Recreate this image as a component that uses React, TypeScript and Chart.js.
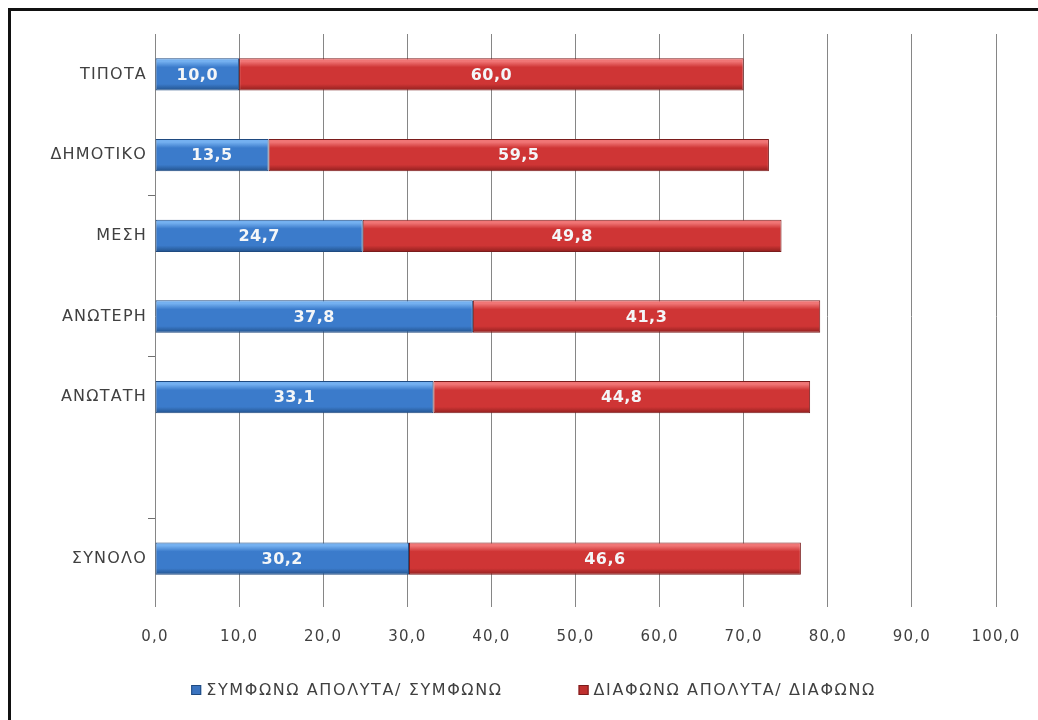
import React, { useEffect, useRef } from "react";
import { Chart, registerables } from "chart.js";

Chart.register(...registerables);

const categories = ["ΤΙΠΟΤΑ", "ΔΗΜΟΤΙΚΟ", "ΜΕΣΗ", "ΑΝΩΤΕΡΗ", "ΑΝΩΤΑΤΗ", "", "ΣΥΝΟΛΟ"];
const agreeValues: (number | null)[] = [10.0, 13.5, 24.7, 37.8, 33.1, null, 30.2];
const disagreeValues: (number | null)[] = [60.0, 59.5, 49.8, 41.3, 44.8, null, 46.6];
const seriesNames = ["ΣΥΜΦΩΝΩ ΑΠΟΛΥΤΑ/ ΣΥΜΦΩΝΩ", "ΔΙΑΦΩΝΩ ΑΠΟΛΥΤΑ/ ΔΙΑΦΩΝΩ"];
const xMin = 0;
const xMax = 100;
const xStep = 10;

const FONT = "'DejaVu Sans', 'Liberation Sans', sans-serif";
const BAR_FRACTION = 0.4;
const AXIS_SPACING = "1.2px";

const fmt = (v: number) => v.toFixed(1).replace(".", ",");

const palettes = [
  { top: "#74b0f0", mid: "#3b7bcb", bottom: "#22528c", border: "#1f4a80", solid: "#3a74c0" },
  { top: "#f07575", mid: "#cf3535", bottom: "#8f1f1e", border: "#7a1c1c", solid: "#c0302f" },
];

function gradientFor(p: typeof palettes[number]) {
  return (c: any) => {
    const chart = c.chart;
    if (!chart.chartArea || c.dataIndex === undefined) return p.mid;
    const y = chart.scales.y;
    const center = y.getPixelForValue(c.dataIndex);
    const half = (y.height / categories.length) * BAR_FRACTION / 2;
    const g = chart.ctx.createLinearGradient(0, center - half, 0, center + half);
    g.addColorStop(0, p.top);
    g.addColorStop(0.1, p.top);
    g.addColorStop(0.28, p.mid);
    g.addColorStop(0.8, p.mid);
    g.addColorStop(1, p.bottom);
    return g;
  };
}

const spacing = {
  id: "spacing",
  beforeUpdate(chart: any) {
    chart.ctx.letterSpacing = AXIS_SPACING;
  },
  beforeDraw(chart: any) {
    chart.ctx.letterSpacing = AXIS_SPACING;
  },
};

const valueLabels = {
  id: "valueLabels",
  afterDatasetsDraw(chart: any) {
    const ctx = chart.ctx;
    ctx.save();
    ctx.letterSpacing = "0.5px";
    ctx.font = `bold 16px ${FONT}`;
    ctx.fillStyle = "#f4f6f8";
    ctx.textAlign = "center";
    ctx.textBaseline = "middle";
    chart.data.datasets.forEach((ds: any, di: number) => {
      const meta = chart.getDatasetMeta(di);
      meta.data.forEach((el: any, i: number) => {
        const v = ds.data[i];
        if (v === null || v === undefined) return;
        const x = (el.x + el.base) / 2;
        ctx.fillText(fmt(v), x, el.y + 1);
      });
    });
    ctx.restore();
  },
};

const customLegend = {
  id: "customLegend",
  afterDraw(chart: any) {
    const ctx = chart.ctx;
    ctx.save();
    ctx.letterSpacing = "1.6px";
    ctx.font = `16px ${FONT}`;
    const box = 10;
    const gapText = 5;
    const gapItems = 76;
    const widths = seriesNames.map((n) => box + gapText + ctx.measureText(n).width);
    const total = widths.reduce((a, b) => a + b, 0) + gapItems * (widths.length - 1);
    let x = (chart.width - total) / 2 + 9;
    const y = chart.chartArea.bottom + 91;
    seriesNames.forEach((n, i) => {
      const p = palettes[i];
      ctx.fillStyle = p.solid;
      ctx.fillRect(x, y - box / 2, box, box);
      ctx.strokeStyle = p.border;
      ctx.lineWidth = 1;
      ctx.strokeRect(x + 0.5, y - box / 2 + 0.5, box - 1, box - 1);
      ctx.fillStyle = "#404040";
      ctx.textAlign = "left";
      ctx.textBaseline = "middle";
      ctx.fillText(n, x + box + gapText, y + 1);
      x += widths[i] + gapItems;
    });
    ctx.restore();
  },
};

export default function App() {
  const ref = useRef<HTMLCanvasElement>(null);

  useEffect(() => {
    if (!ref.current) return;
    const chart = new Chart(ref.current, {
      type: "bar",
      data: {
        labels: categories,
        datasets: [
          {
            label: seriesNames[0],
            data: agreeValues as any,
            backgroundColor: gradientFor(palettes[0]) as any,
            borderColor: palettes[0].border,
            borderWidth: 1,
            borderSkipped: false,
            barPercentage: BAR_FRACTION,
            categoryPercentage: 1,
          },
          {
            label: seriesNames[1],
            data: disagreeValues as any,
            backgroundColor: gradientFor(palettes[1]) as any,
            borderColor: palettes[1].border,
            borderWidth: 1,
            borderSkipped: false,
            barPercentage: BAR_FRACTION,
            categoryPercentage: 1,
          },
        ],
      },
      options: {
        indexAxis: "y",
        responsive: false,
        animation: false,
        devicePixelRatio: 1,
        layout: { padding: { left: 0, top: 23, right: 42, bottom: 71 } },
        plugins: {
          legend: { display: false },
          tooltip: { enabled: false },
        },
        scales: {
          x: {
            stacked: true,
            min: xMin,
            max: xMax,
            ticks: {
              stepSize: xStep,
              callback: (v: any) => fmt(Number(v)),
              color: "#404040",
              font: { family: FONT, size: 15 },
              padding: 21,
              maxRotation: 0,
            },
            grid: {
              color: "#868686",
              lineWidth: 1,
              drawTicks: true,
              tickLength: 8,
            },
            border: { display: false },
            afterFit: (s: any) => {
              s.height = 50;
              s.paddingLeft = 0;
              s.paddingRight = 0;
            },
          },
          y: {
            stacked: true,
            ticks: {
              color: "#404040",
              font: { family: FONT, size: 16 },
              padding: 1,
            },
            grid: {
              offset: true,
              drawOnChartArea: false,
              drawTicks: true,
              tickLength: 7,
              color: (c: any) => (c.index > 0 && c.index % 2 === 0 && c.index < categories.length ? "#707070" : "rgba(0,0,0,0)"),
            },
            border: { display: false },
            afterFit: (s: any) => {
              s.width = 144;
              s.paddingTop = 0;
              s.paddingBottom = 0;
            },
          },
        },
      },
      plugins: [spacing, valueLabels, customLegend],
    });
    return () => chart.destroy();
  }, []);

  return (
    <div style={{ position: "absolute", left: 0, top: 0, width: 1038, height: 720, background: "#fff", overflow: "hidden" }}>
      <div
        style={{
          position: "absolute",
          left: 8,
          top: 8,
          width: 1030,
          height: 712,
          borderTop: "3px solid #111",
          borderLeft: "3px solid #111",
          boxSizing: "border-box",
        }}
      >
        <canvas ref={ref} width={1027} height={709} style={{ display: "block" }} />
      </div>
    </div>
  );
}
